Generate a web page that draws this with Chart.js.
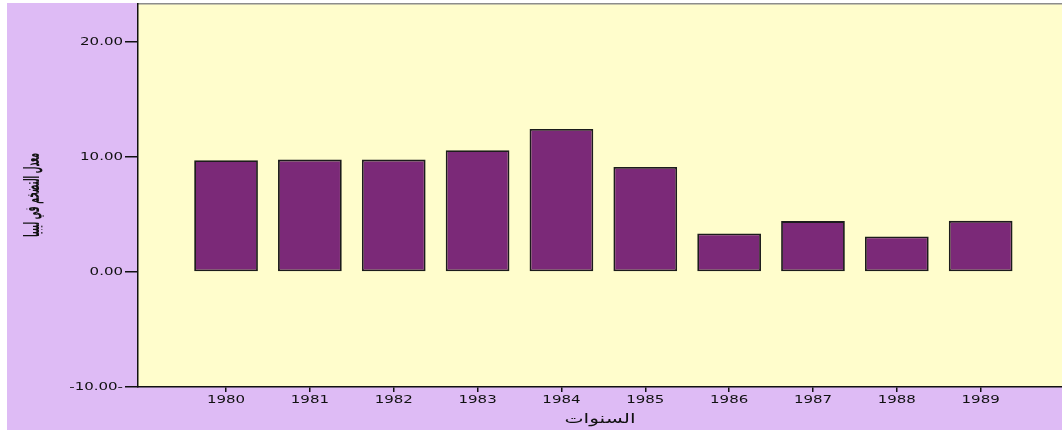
<!DOCTYPE html>
<html lang="ar">
<head>
<meta charset="utf-8">
<title>معدل التضخم في ليبيا</title>
<script src="https://cdn.jsdelivr.net/npm/chart.js@4.4.1/dist/chart.umd.min.js"></script>
<style>
  html, body { margin: 0; padding: 0; background: #ffffff; }
  body { width: 1062px; height: 434px; position: relative; overflow: hidden; }
  #panel { position: absolute; left: 7px; top: 3px; width: 1055px; height: 427px; background: #DEBBF5; }
  canvas { display: block; }
</style>
</head>
<body>
<div id="panel"><canvas id="chart"></canvas></div>
<script>
// Inflation rate in Libya, 1980-1989
const years = [1980, 1981, 1982, 1983, 1984, 1985, 1986, 1987, 1988, 1989];
const inflation = [9.72, 9.78, 9.78, 10.59, 12.44, 9.14, 3.36, 4.43, 3.10, 4.45];
const yTickValues = [-10, 0, 10, 20];
const yTickLabels = ['-10.00-', '0.00', '10.00', '20.00'];
const xTitle = 'السنوات';
const yTitle = 'معدل التضخم في ليبيا';

const FONT = 'DejaVu Sans';
const INK = '#111111';
const TICK_STRETCH = 1.5;                               // horizontal widening of tick label glyphs
const TITLE_SCALE = { x: [1.5, 1], y: [1.9, 0.7] };     // [page-x, page-y] scaling of axis titles

// Yellow plot panel with a grey top rule
const plotPanel = {
  id: 'plotPanel',
  beforeDraw(chart) {
    const { ctx, chartArea: { left, top, right, bottom } } = chart;
    ctx.save();
    ctx.fillStyle = '#FFFDCC';
    ctx.fillRect(left, top, right - left, bottom - top);
    ctx.strokeStyle = '#8c8c8c';
    ctx.lineWidth = 1.5;
    ctx.beginPath();
    ctx.moveTo(left, top + 0.75);
    ctx.lineTo(right, top + 0.75);
    ctx.stroke();
    ctx.restore();
  }
};

// Wide axis lettering: each tick label is placed by Chart.js with translate + rotate,
// so the widening is appended to that rotate call; titles are scaled about their centre.
const wideAxisText = {
  id: 'wideAxisText',
  beforeDraw(chart) {
    Object.values(chart.scales).forEach((scale) => {
      if (scale._wideText) return;
      const drawLabels = scale.drawLabels.bind(scale);
      const drawTitle = scale.drawTitle.bind(scale);
      scale.drawLabels = function (area) {
        const c = this.ctx;
        const rotate = c.rotate;
        c.rotate = function (angle) {
          rotate.call(this, angle);
          this.scale(TICK_STRETCH, 1);
        };
        try { drawLabels(area); } finally { delete c.rotate; }
      };
      scale.drawTitle = function () {
        const t = this.options.title;
        const lineHeight = (t.font.size || 12) * 1.2;
        const padTop = (t.padding && t.padding.top) || 0;
        const horizontal = this.isHorizontal();
        const cx = horizontal ? (this.left + this.right) / 2 : this.left + lineHeight / 2 + padTop;
        const cy = horizontal ? this.bottom : (this.top + this.bottom) / 2;
        const [sx, sy] = TITLE_SCALE[this.axis];
        const c = this.ctx;
        c.save();
        c.translate(cx, cy);
        c.scale(sx, sy);
        c.translate(-cx, -cy);
        drawTitle();
        c.restore();
      };
      scale._wideText = true;
    });
  }
};

new Chart(document.getElementById('chart'), {
  type: 'bar',
  data: {
    datasets: [{
      data: years.map((yr, i) => ({ x: yr, y: inflation[i] })),
      backgroundColor: '#7B2978',
      borderColor: '#1c1c1c',
      borderWidth: 1.8,
      borderSkipped: false,
      barPercentage: 0.76,
      categoryPercentage: 1
    }]
  },
  options: {
    responsive: true,
    maintainAspectRatio: false,
    animation: false,
    layout: { padding: 0 },
    plugins: {
      legend: { display: false },
      tooltip: { enabled: false }
    },
    scales: {
      x: {
        type: 'linear',
        min: 1978.95,
        max: 1989.97,
        offset: false,
        grid: { offset: false, drawOnChartArea: false, drawTicks: true, tickLength: 5, color: INK, lineWidth: 1.5 },
        border: { display: true, color: INK, width: 1.5 },
        ticks: {
          autoSkip: false,
          maxRotation: 0,
          padding: 2,
          color: INK,
          font: { family: FONT, size: 10 },
          callback: (v) => String(v)
        },
        afterBuildTicks(s) { s.ticks = years.map((v) => ({ value: v })); },
        afterFit(s) { s.height = 43; s.paddingLeft = 0; s.paddingRight = 0; },
        title: {
          display: true,
          text: xTitle,
          color: INK,
          font: { family: FONT, size: 13.5 },
          padding: { top: 0, bottom: 2 }
        }
      },
      y: {
        min: -10,
        max: 23.4,
        grid: { drawOnChartArea: false, drawTicks: true, tickLength: 13, color: INK, lineWidth: 1.5 },
        border: { display: true, color: INK, width: 1.5 },
        ticks: {
          padding: 2,
          color: INK,
          font: { family: FONT, size: 10 },
          callback: (v) => yTickLabels[yTickValues.indexOf(v)]
        },
        afterBuildTicks(s) { s.ticks = yTickValues.map((v) => ({ value: v })); },
        afterFit(s) { s.width = 131; s.paddingTop = 0; s.paddingBottom = 0; },
        title: {
          display: true,
          text: yTitle,
          color: INK,
          font: { family: FONT, size: 11, weight: 'bold' },
          padding: { top: 19.5, bottom: 0 }
        }
      }
    }
  },
  plugins: [plotPanel, wideAxisText]
});
</script>
</body>
</html>
